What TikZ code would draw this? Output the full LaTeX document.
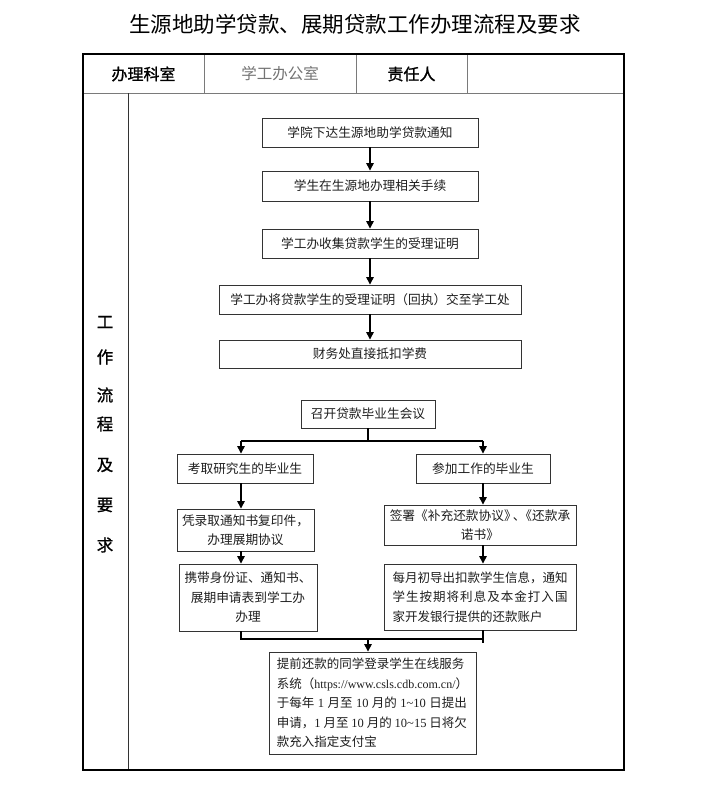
\documentclass[tikz,border=0pt]{standalone}
\usepackage{fontspec}
\setmainfont{Liberation Serif}
\newfontfamily\cjk{Noto Sans CJK SC}
\newfontfamily\cjkb{Noto Sans CJK SC}[FakeBold=1.2]
\usetikzlibrary{arrows.meta}
\definecolor{boxline}{HTML}{333333}
\definecolor{txt}{HTML}{1E1E1E}
\definecolor{hdrline}{HTML}{7A7A7A}
\newcommand\zh[1]{{\cjk #1}}
\begin{document}
\begin{tikzpicture}[x=1pt,y=-1pt,
  box/.style={draw=boxline, line width=0.9pt, inner sep=0pt, text=txt,
    font=\cjk\fontsize{12.7}{19.5}\selectfont},
  arr/.style={draw=black, line width=1.3pt, -{Triangle[length=7.5pt,width=7.5pt]}},
  ln/.style={draw=black, line width=1.3pt},
  hdr/.style={inner sep=0pt, text=black, font=\cjkb\fontsize{16}{16}\selectfont},
  vchar/.style={inner sep=0pt, text=black, font=\cjkb\fontsize{16.5}{16}\selectfont},
]
\useasboundingbox (0,0) rectangle (707,800);
\fill[white] (0,0) rectangle (707,800);

% title
\node[inner sep=0pt, font=\cjk\fontsize{21.5}{22}\selectfont] (title) at (355,24)
  {生源地助学贷款、展期贷款工作办理流程及要求};

% table frame
\draw[line width=0.9pt, draw=hdrline] (83,93) -- (624,93);
\draw[line width=0.9pt, draw=hdrline] (204,54) -- (204,93);
\draw[line width=0.9pt, draw=hdrline] (356,54) -- (356,93);
\draw[line width=0.9pt, draw=hdrline] (467,54) -- (467,93);
\draw[line width=0.9pt, draw=boxline] (128,93) -- (128,770);
\draw[line width=2.4pt, draw=black] (83,54) rectangle (624,770);

% header texts
\node[hdr] (h1) at (143.5,74) {办理科室};
\node[inner sep=0pt, text=black!55, font=\cjk\fontsize{15.5}{16}\selectfont] (h2) at (280,74) {学工办公室};
\node[hdr] (h3) at (411.5,74) {责任人};

% vertical label
\node[vchar] (v1) at (105,322) {工};
\node[vchar] (v2) at (105,357) {作};
\node[vchar] (v3) at (105,395) {流};
\node[vchar] (v4) at (105,424) {程};
\node[vchar] (v5) at (105,465) {及};
\node[vchar] (v6) at (105,505) {要};
\node[vchar] (v7) at (105,545) {求};

% boxes
\node[box, minimum width=216, minimum height=29] (b1) at (370,132.5) {学院下达生源地助学贷款通知};
\node[box, minimum width=216, minimum height=30] (b2) at (370,186) {学生在生源地办理相关手续};
\node[box, minimum width=216, minimum height=29] (b3) at (370,243.5) {学工办收集贷款学生的受理证明};
\node[box, minimum width=302, minimum height=29] (b4) at (370,299.5) {学工办将贷款学生的受理证明（回执）交至学工处};
\node[box, minimum width=302, minimum height=28] (b5) at (370,354) {财务处直接抵扣学费};
\node[box, minimum width=134, minimum height=28] (b6) at (368,414) {召开贷款毕业生会议};
\node[box, minimum width=136, minimum height=29] (b7L) at (245,468.5) {考取研究生的毕业生};
\node[box, minimum width=134, minimum height=29] (b7R) at (483,468.5) {参加工作的毕业生};
\node[box, minimum width=137, minimum height=42, align=center] (b8L) at (245.5,530)
  {凭录取通知书复印件，\\办理展期协议};
\node[box, minimum width=192, minimum height=40, align=center] (b8R) at (480,525)
  {签署《补充还款协议》\kern-4pt、\kern-6pt《还款承\\诺书》};
\node[box, minimum width=138, minimum height=67, align=center] (b9L) at (248,597.5)
  {携带身份证、通知书、\\展期申请表到学工办\\办理};
\node[box, minimum width=192, minimum height=66, align=left,
      font=\cjk\fontsize{12.5}{19.5}\selectfont] (b9R) at (480,597)
  {每月初导出扣款学生信息，通知\\
   \makebox[175pt][s]{学\hfill 生\hfill 按\hfill 期\hfill 将\hfill 利\hfill 息\hfill 及\hfill 本\hfill 金\hfill 打\hfill 入\hfill 国}\\
   家开发银行提供的还款账户};
\node[box, minimum width=207, minimum height=102, align=left,
      font=\rmfamily\fontsize{12.5}{19.5}\selectfont] (b10) at (372.5,703)
  {\zh{提前还款的同学登录学生在线服务}\\
   \zh{系统（}{\fontsize{12}{19.5}\selectfont https://www.csls.cdb.com.cn/}\zh{）}\\
   \makebox[190pt][s]{\zh{于每年} 1 \zh{月至} 10 \zh{月的} 1\textasciitilde 10 \zh{日提出}}\\
   \makebox[190pt][s]{\zh{申请，}1 \zh{月至} 10 \zh{月的} 10\textasciitilde 15 \zh{日将欠}}\\
   \zh{款充入指定支付宝}};

% connector coordinates
\coordinate (sl) at (241,441);
\coordinate (sr) at (483,441);
\coordinate (ml) at (241,639);
\coordinate (mr) at (483,639);
\coordinate (mr2) at (483,643);
\coordinate (ma) at (368,639);

% main column arrows
\draw[arr] (b1.south) -- (b2.north);
\draw[arr] (b2.south) -- (b3.north);
\draw[arr] (b3.south) -- (b4.north);
\draw[arr] (b4.south) -- (b5.north);

% split
\draw[ln] (b6.south) -- (b6.south |- sl);
\draw[ln] (sl) -- (sr);
\draw[arr] (sl) -- (sl |- b7L.north);
\draw[arr] (sr) -- (sr |- b7R.north);
\draw[arr] (sl |- b7L.south) -- (sl |- b8L.north);
\draw[arr] (sl |- b8L.south) -- (sl |- b9L.north);
\draw[arr] (sr |- b7R.south) -- (sr |- b8R.north);
\draw[arr] (sr |- b8R.south) -- (sr |- b9R.north);

% merge
\draw[ln] (sl |- b9L.south) -- (ml) -- (mr);
\draw[ln] (sr |- b9R.south) -- (mr2);
\draw[arr] (ma) -- (ma |- b10.north);
\end{tikzpicture}
\end{document}
